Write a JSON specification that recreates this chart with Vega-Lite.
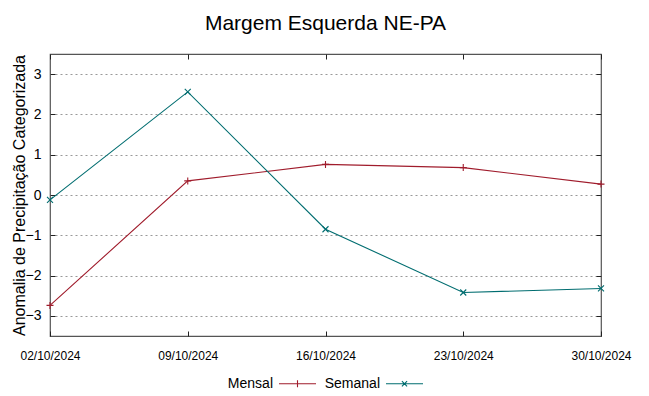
{
  "$schema": "https://vega.github.io/schema/vega-lite/v6.json",
  "autosize": "none",
  "width": 551,
  "height": 282,
  "padding": {"left": 50, "top": 54, "right": 48, "bottom": 60},
  "background": "white",
  "title": {
    "text": "Margem Esquerda NE-PA",
    "font": "Liberation Sans",
    "fontSize": 21,
    "fontWeight": "normal",
    "color": "#000",
    "baseline": "alphabetic",
    "offset": 3,
    "anchor": "middle"
  },
  "config": {
    "view": {"stroke": "#555", "strokeWidth": 1.2},
    "axis": {"domain": false, "tickColor": "#222", "labelColor": "#000", "titleColor": "#000"}
  },
  "data": {
    "values": [
      {"date": "2024-10-02", "serie": "Mensal", "valor": -2.74},
      {"date": "2024-10-09", "serie": "Mensal", "valor": 0.35},
      {"date": "2024-10-16", "serie": "Mensal", "valor": 0.76},
      {"date": "2024-10-23", "serie": "Mensal", "valor": 0.68},
      {"date": "2024-10-30", "serie": "Mensal", "valor": 0.27},
      {"date": "2024-10-02", "serie": "Semanal", "valor": -0.12},
      {"date": "2024-10-09", "serie": "Semanal", "valor": 2.56},
      {"date": "2024-10-16", "serie": "Semanal", "valor": -0.85},
      {"date": "2024-10-23", "serie": "Semanal", "valor": -2.42},
      {"date": "2024-10-30", "serie": "Semanal", "valor": -2.32}
    ]
  },
  "resolve": {"axis": {"x": "independent", "y": "independent"}},
  "layer": [
    {
      "mark": {"type": "line", "strokeWidth": 1.1},
      "encoding": {
        "x": {
          "field": "date", "type": "temporal",
          "scale": {"type": "utc", "domain": ["2024-10-02", "2024-10-30"]},
          "axis": {
            "title": null,
            "values": ["2024-10-02", "2024-10-09", "2024-10-16", "2024-10-23", "2024-10-30"],
            "labelExpr": "utcFormat(datum.value, '%d/%m/%Y')",
            "grid": false,
            "tickSize": -5,
            "labelPadding": 19,
            "labelFont": "Liberation Sans",
            "labelFontSize": 12,
            "labelFlush": false,
            "labelOverlap": false
          }
        },
        "y": {
          "field": "valor", "type": "quantitative",
          "scale": {"domain": [-3.5, 3.5], "nice": false},
          "axis": {
            "title": "Anomalia de Precipitação Categorizada",
            "titleFont": "Liberation Sans",
            "titleFontSize": 16,
            "titleFontWeight": "normal",
            "titlePadding": -2,
            "values": [-3, -2, -1, 0, 1, 2, 3],
            "grid": true,
            "gridColor": "#999",
            "gridDash": [2, 3],
            "gridWidth": 1,
            "tickSize": -5,
            "labelPadding": 14,
            "labelFont": "Liberation Sans",
            "labelFontSize": 14
          }
        },
        "color": {
          "field": "serie", "type": "nominal",
          "scale": {"domain": ["Mensal", "Semanal"], "range": ["#a01c2c", "#006d70"]},
          "legend": {
            "title": null,
            "orient": "none",
            "legendX": 228,
            "legendY": 310,
            "direction": "horizontal",
            "symbolType": {"expr": "datum.value === 'Mensal' ? 'M-1,0H1M0,-0.19V0.19' : 'M-1,0H1M-0.14,-0.14L0.14,0.14M-0.14,0.14L0.14,-0.14'"},
            "symbolSize": 1369,
            "symbolStrokeWidth": 1.1,
            "labelFont": "Liberation Sans",
            "labelFontSize": 14,
            "labelColor": "#000",
            "labelAlign": "right",
            "labelOffset": -44,
            "columnPadding": 5
          }
        }
      }
    },
    {
      "transform": [{"filter": "datum.serie === 'Mensal'"}],
      "mark": {"type": "point", "shape": "M-1,0H1M0,-1V1", "size": 49, "filled": false, "strokeWidth": 1.1, "color": "#a01c2c", "opacity": 1},
      "encoding": {
        "x": {"field": "date", "type": "temporal",
          "axis": {"orient": "top", "title": null, "labels": false, "grid": false, "tickSize": -5,
            "values": ["2024-10-02", "2024-10-09", "2024-10-16", "2024-10-23", "2024-10-30"]}},
        "y": {"field": "valor", "type": "quantitative",
          "axis": {"orient": "right", "title": null, "labels": false, "grid": false, "tickSize": -5,
            "values": [-3, -2, -1, 0, 1, 2, 3]}}
      }
    },
    {
      "transform": [{"filter": "datum.serie === 'Semanal'"}],
      "mark": {"type": "point", "shape": "M-1,-1L1,1M-1,1L1,-1", "size": 36, "filled": false, "strokeWidth": 1.1, "color": "#006d70", "opacity": 1},
      "encoding": {
        "x": {"field": "date", "type": "temporal", "axis": null},
        "y": {"field": "valor", "type": "quantitative", "axis": null}
      }
    }
  ]
}
